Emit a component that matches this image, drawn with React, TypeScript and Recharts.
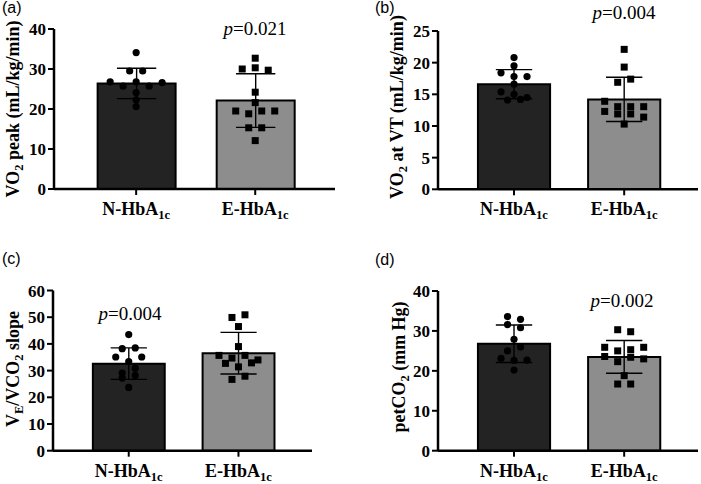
import React from 'react';
import { ComposedChart, Bar, ErrorBar, Scatter, XAxis, YAxis, Cell } from 'recharts';

// ---------- data ----------
const groupNames = ['N-HbA', 'E-HbA'];
const groupSub = '1c';

// (a) VO2 peak (mL/kg/min)
const aMeans = [26.4, 22.1];
const aSD = [3.8, 6.7];
const aN = [34.1, 29.5, 29.5, 26.8, 25.7, 25.7, 26.8, 26.6, 24.1, 22.3, 20.6];
const aE = [32.7, 30.3, 30.0, 29.7, 24.2, 21.6, 18.8, 19.5, 19.5, 19.5, 15.3, 15.3, 12.1];
const aTicks = [0, 10, 20, 30, 40];

// (b) VO2 at VT (mL/kg/min)
const bMeans = [16.6, 14.2];
const bSD = [2.3, 3.5];
const bN = [20.8, 19.5, 17.8, 18.4, 17.8, 16.6, 15.0, 15.4, 14.5, 14.1, 14.2];
const bE = [22.1, 19.3, 16.9, 17.4, 13.05, 13.05, 13.9, 13.05, 11.9, 11.9, 12.3, 11.4, 10.3];
const bTicks = [0, 5, 10, 15, 20, 25];

// (c) VE/VCO2 slope
const cMeans = [32.6, 36.5];
const cSD = [5.9, 7.8];
const cN = [43.5, 38.2, 38.5, 33.4, 35.1, 35.1, 29.1, 30.9, 27.2, 28.2, 23.7];
const cE = [49.9, 50.9, 46.5, 39.0, 34.7, 35.7, 35.7, 34.0, 31.4, 32.7, 32.9, 26.7, 27.9];
const cTicks = [0, 10, 20, 30, 40, 50, 60];

// (d) petCO2 (mm Hg)
const dMeans = [26.8, 23.5];
const dSD = [4.7, 4.1];
const dN = [33.6, 32.9, 31.6, 30.8, 27.9, 25.0, 26.0, 22.6, 23.1, 22.7, 20.2];
const dE = [30.3, 29.8, 25.0, 25.3, 25.9, 25.9, 22.3, 23.4, 23.6, 23.0, 18.8, 16.7, 16.7];
const dTicks = [0, 10, 20, 30, 40];

const pValues = ['0.021', '0.004', '0.004', '0.002'];

// ---------- styling ----------
const SERIF = '"Liberation Serif", "Times New Roman", serif';
const SANS = '"Liberation Sans", Arial, sans-serif';
const BAR_FILLS = ['#232323', '#8d8d8d'];
const X_MIN = -0.69;
const X_MAX = 1.67;

// Prism-like scatter dodge: group points of similar value into rows and spread horizontally
function swarm(values: number[], center: number, pxPerUnitY: number, slotX: number, thresh = 6) {
  const idx = values.map((_, i) => i).sort((i, j) => values[j] - values[i] || i - j);
  const rows: number[][] = [];
  let cur: number[] = [];
  let first = -1;
  for (const i of idx) {
    if (cur.length && (values[first] - values[i]) * pxPerUnitY <= thresh) cur.push(i);
    else {
      if (cur.length) rows.push(cur);
      cur = [i];
      first = i;
    }
  }
  if (cur.length) rows.push(cur);
  const out: { sx: number; y: number }[] = [];
  for (const r of rows) {
    r.sort((p, q) => p - q);
    const n = r.length;
    r.forEach((i, k) => {
      let slot: number;
      if (n % 2 === 1) slot = k === 0 ? 0 : k % 2 === 1 ? -Math.ceil(k / 2) : Math.ceil(k / 2);
      else {
        const m = Math.floor(k / 2) + 0.5;
        slot = k % 2 === 0 ? -m : m;
      }
      out.push({ sx: center + slot * slotX, y: values[i] });
    });
  }
  return out;
}

const CircleDot = (p: any) => <circle cx={p.cx} cy={p.cy} r={3.6} fill="#000" />;
const SquareDot = (p: any) => <rect x={p.cx - 3.5} y={p.cy - 3.5} width={7} height={7} fill="#000" />;

const XTick = (p: any) => {
  const i = Math.round(p.payload.value);
  return (
    <text x={p.x} y={p.y + 18} textAnchor="middle" fontFamily={SERIF} fontWeight="bold" fontSize={18} fill="#000">
      {groupNames[i]}
      <tspan fontSize={12.5} dy={4}>{groupSub}</tspan>
    </text>
  );
};

type PanelProps = {
  left: number; top: number; width: number; height: number;
  marginTop: number; marginRight: number; yAxisWidth: number; xAxisHeight: number;
  yMax: number; yTicks: number[]; means: number[]; sds: number[]; nVals: number[]; eVals: number[];
};

function Panel(p: PanelProps) {
  const plotW = p.width - p.marginRight - p.yAxisWidth;
  const plotH = p.height - p.marginTop - p.xAxisHeight;
  const unitPx = plotW / (X_MAX - X_MIN);
  const barSize = 0.655 * unitPx;
  const slotX = 13 / unitPx;
  const pxY = plotH / p.yMax;
  const barData = p.means.map((m, i) => ({ x: i, mean: m, sd: p.sds[i] }));
  const nPts = swarm(p.nVals, 0, pxY, slotX);
  const ePts = swarm(p.eVals, 1, pxY, slotX);
  const axisStyle = { stroke: '#000', strokeWidth: 2.5 };
  return (
    <div style={{ position: 'absolute', left: p.left, top: p.top }}>
      <ComposedChart
        width={p.width}
        height={p.height}
        data={barData}
        margin={{ top: p.marginTop, right: p.marginRight, bottom: 0, left: 0 }}
      >
        <XAxis
          xAxisId="bar"
          type="number"
          dataKey="x"
          domain={[X_MIN, X_MAX]}
          allowDataOverflow
          ticks={[0, 1]}
          height={p.xAxisHeight}
          tickSize={6}
          axisLine={axisStyle}
          tickLine={{ stroke: '#000', strokeWidth: 2 }}
          tick={<XTick />}
          interval={0}
        />
        <XAxis xAxisId="pts" type="number" dataKey="sx" domain={[X_MIN, X_MAX]} allowDataOverflow hide />
        <YAxis
          type="number"
          domain={[0, p.yMax]}
          allowDataOverflow
          ticks={p.yTicks}
          width={p.yAxisWidth}
          tickSize={6}
          interval={0}
          axisLine={axisStyle}
          tickLine={{ stroke: '#000', strokeWidth: 2 }}
          tick={{ fill: '#000', fontSize: 17, fontWeight: 'bold', fontFamily: SERIF }}
        />
        <Bar xAxisId="bar" dataKey="mean" barSize={barSize} stroke="#000" strokeWidth={2} isAnimationActive={false}>
          {barData.map((_, i) => (
            <Cell key={i} fill={BAR_FILLS[i]} />
          ))}
          <ErrorBar dataKey="sd" width={unitPx * 0.165} stroke="#000" strokeWidth={1.4} direction="y" />
        </Bar>
        <Scatter xAxisId="pts" data={nPts} dataKey="y" shape={CircleDot} isAnimationActive={false} />
        <Scatter xAxisId="pts" data={ePts} dataKey="y" shape={SquareDot} isAnimationActive={false} />
      </ComposedChart>
    </div>
  );
}

const YTitle = ({ x, y, children }: { x: number; y: number; children: React.ReactNode }) => (
  <text
    transform={`translate(${x},${y}) rotate(-90)`}
    textAnchor="middle"
    fontFamily={SERIF}
    fontWeight="bold"
    fontSize={18}
    fill="#000"
  >
    {children}
  </text>
);

const PText = ({ x, y, value }: { x: number; y: number; value: string }) => (
  <text x={x} y={y} textAnchor="middle" fontFamily={SERIF} fontSize={19} fill="#000">
    <tspan fontStyle="italic">p</tspan>
    {'=' + value}
  </text>
);

export default function App() {
  return (
    <div style={{ position: 'absolute', left: 0, top: 0, width: 701, height: 484, background: '#fff' }}>
      <Panel left={0} top={0} width={350} height={240} marginTop={29} marginRight={15} yAxisWidth={54} xAxisHeight={51}
        yMax={40} yTicks={aTicks} means={aMeans} sds={aSD} nVals={aN} eVals={aE} />
      <Panel left={350} top={0} width={351} height={240} marginTop={31} marginRight={3} yAxisWidth={88} xAxisHeight={50.7}
        yMax={25} yTicks={bTicks} means={bMeans} sds={bSD} nVals={bN} eVals={bE} />
      <Panel left={0} top={240} width={350} height={244} marginTop={50.5} marginRight={38} yAxisWidth={53} xAxisHeight={33.3}
        yMax={60} yTicks={cTicks} means={cMeans} sds={cSD} nVals={cN} eVals={cE} />
      <Panel left={350} top={240} width={351} height={244} marginTop={51} marginRight={3} yAxisWidth={88} xAxisHeight={33.3}
        yMax={40} yTicks={dTicks} means={dMeans} sds={dSD} nVals={dN} eVals={dE} />
      <svg width={701} height={484} style={{ position: 'absolute', left: 0, top: 0, pointerEvents: 'none' }}>
        <g fontFamily={SANS} fontSize={16} fill="#000">
          <text x={2} y={13}>(a)</text>
          <text x={375} y={13}>(b)</text>
          <text x={2} y={264}>(c)</text>
          <text x={375} y={265}>(d)</text>
        </g>
        <YTitle x={19} y={109}>
          VO<tspan fontSize={12.5} dy={4}>2</tspan>
          <tspan dy={-4}>{' peak (mL/kg/min)'}</tspan>
        </YTitle>
        <YTitle x={403} y={107}>
          VO<tspan fontSize={12.5} dy={4}>2</tspan>
          <tspan dy={-4}>{' at VT (mL/kg/min)'}</tspan>
        </YTitle>
        <YTitle x={18.5} y={369}>
          V<tspan fontSize={12.5} dy={4}>E</tspan>
          <tspan dy={-4}>/VCO</tspan>
          <tspan fontSize={12.5} dy={4}>2</tspan>
          <tspan dy={-4}>{' slope'}</tspan>
        </YTitle>
        <YTitle x={405} y={367}>
          petCO<tspan fontSize={12.5} dy={4}>2</tspan>
          <tspan dy={-4}>{' (mm Hg)'}</tspan>
        </YTitle>
        <PText x={255} y={35} value={pValues[0]} />
        <PText x={624} y={18.5} value={pValues[1]} />
        <PText x={130} y={320} value={pValues[2]} />
        <PText x={622} y={306.5} value={pValues[3]} />
      </svg>
    </div>
  );
}
